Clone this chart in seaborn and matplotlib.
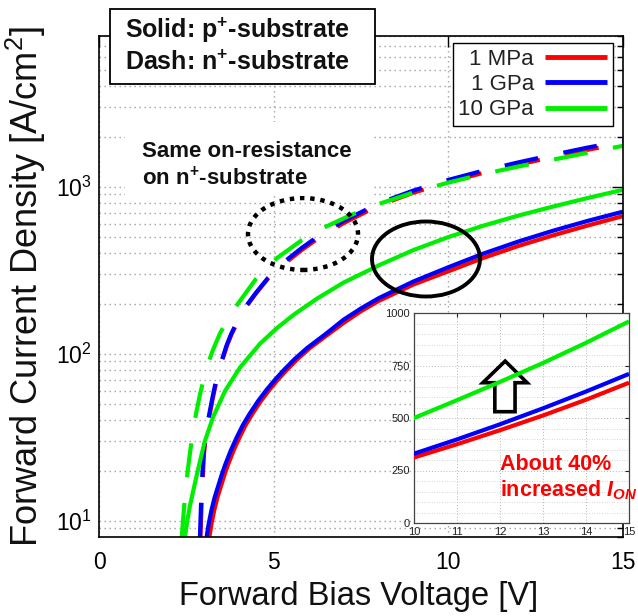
import matplotlib
matplotlib.use("Agg")
import matplotlib.pyplot as plt
import numpy as np
import pandas as pd
import seaborn as sns
from matplotlib.patches import Ellipse, Polygon, Rectangle
from matplotlib.lines import Line2D
from matplotlib.ticker import MultipleLocator, LogLocator, NullFormatter

# ---- forward J-V curves, p+-substrate (solid) ----
v_p_1mpa = [3.16, 3.22, 3.30, 3.39, 3.49, 3.59, 3.69, 3.85, 4.02, 4.20, 4.40, 4.63, 4.88, 5.12, 5.36,
            5.68, 6.03, 6.5, 7.0, 7.5, 8.0, 9.0, 10, 11, 12, 13, 14, 15]
j_p_1mpa = [8, 9.6, 11.6, 13.8, 16.1, 18.8, 21.6, 26.3, 31.5, 37.5, 44, 52, 61, 70, 79.5,
            93, 108, 128, 153, 180, 207, 260, 312, 375, 442, 512, 587, 668]

v_p_1gpa = [3.08, 3.14, 3.22, 3.31, 3.41, 3.51, 3.61, 3.77, 3.94, 4.12, 4.32, 4.55, 4.80, 5.04, 5.28,
            5.6, 5.95, 6.5, 7.0, 7.5, 8.0, 9.0, 10, 11, 12, 13, 14, 15]
j_p_1gpa = [8, 9.6, 11.6, 13.8, 16.1, 18.8, 21.6, 26.3, 31.5, 37.5, 44, 52, 61, 70, 79.5,
            93, 108, 132, 160, 187, 215, 271, 330, 398, 470, 546, 626, 710]

v_p_10gpa = [2.46, 2.52, 2.6, 2.7, 2.84, 3.03, 3.27, 3.61, 4.04, 4.61, 5.1, 5.6, 6.24, 7.0, 8.04,
             9.0, 10, 11, 12, 13, 14, 15]
j_p_10gpa = [8, 9.8, 12.2, 15.2, 20.5, 30, 42, 60, 83, 115, 143, 173, 214, 267, 341,
             418, 500, 585, 672, 762, 858, 960]

# ---- forward J-V curves, n+-substrate (dashed) ----
v_n_1mpa = [2.905, 2.92, 2.935, 2.955, 2.975, 3.005, 3.045, 3.095, 3.175, 3.265, 3.345, 3.445, 3.555,
            3.665, 3.795, 3.965, 4.215, 4.515, 4.855, 5.3, 5.8, 6.24, 7.0, 7.76, 8.24, 9.0, 10, 11,
            12, 13, 14, 15]
j_n_1mpa = [8, 10, 12.4, 15.5, 19, 25, 30.5, 36, 44, 55, 66, 80, 95,
            112, 131, 155, 192, 233, 285, 345, 418, 486, 606, 728, 805, 922, 1067, 1212,
            1358, 1508, 1668, 1824]

v_n_1gpa = [2.89, 2.905, 2.92, 2.94, 2.96, 2.99, 3.03, 3.08, 3.16, 3.25, 3.33, 3.43, 3.54,
            3.65, 3.78, 3.95, 4.2, 4.5, 4.84, 5.3, 5.8, 6.24, 7.0, 7.76, 8.24, 9.0, 10, 11,
            12, 13, 14, 15]
j_n_1gpa = [8, 10, 12.4, 15.5, 19, 25, 30.5, 36, 44, 55, 66, 80, 95,
            112, 131, 155, 192, 233, 285, 355, 430, 500, 625, 750, 830, 950, 1100, 1250,
            1400, 1555, 1720, 1880]

v_n_10gpa = [2.37, 2.405, 2.44, 2.48, 2.54, 2.61, 2.68, 2.78, 2.89, 3.0, 3.12, 3.25, 3.46, 3.7,
             3.95, 4.5, 5.1, 5.8, 6.5, 7.2, 8.0, 9, 10, 11, 12, 13, 14, 15]
j_n_10gpa = [8, 10, 12.4, 15.2, 20, 26, 33, 44, 57, 71, 87, 104, 132, 163,
             196, 282, 375, 478, 578, 676, 788, 925, 1060, 1192, 1322, 1455, 1600, 1760]

pressures = ["1 MPa", "1 GPa", "10 GPa"]
colors = {"1 MPa": "#ff0000", "1 GPa": "#0000ff", "10 GPa": "#00ee00"}

x_ticks = [0, 5, 10, 15]
inset_x_ticks = [10, 11, 12, 13, 14, 15]
inset_y_ticks = [0, 250, 500, 750, 1000]

frames = []
for subst, series in [
    ("n+", [(v_n_1mpa, j_n_1mpa), (v_n_1gpa, j_n_1gpa), (v_n_10gpa, j_n_10gpa)]),
    ("p+", [(v_p_1mpa, j_p_1mpa), (v_p_1gpa, j_p_1gpa), (v_p_10gpa, j_p_10gpa)]),
]:
    for p, (v, j) in zip(pressures, series):
        frames.append(pd.DataFrame({"V": v, "J": j, "pressure": p, "substrate": subst}))
df = pd.concat(frames, ignore_index=True)

sns.set_theme(style="white")
plt.rcParams["font.family"] = ["Liberation Sans", "DejaVu Sans"]
plt.rcParams["mathtext.fontset"] = "custom"
plt.rcParams["mathtext.rm"] = "Liberation Sans"
plt.rcParams["mathtext.it"] = "Liberation Sans:italic:bold"
plt.rcParams["mathtext.bf"] = "Liberation Sans:bold"
plt.rcParams["lines.solid_capstyle"] = "butt"
plt.rcParams["lines.dash_capstyle"] = "butt"
plt.rcParams["lines.solid_joinstyle"] = "round"

W, H = 638, 616
fig = plt.figure(figsize=(W / 100, H / 100), dpi=100)
fig.patch.set_facecolor("white")


def fx(x):
    return x / W


def fy(y):
    return 1 - y / H


ax = fig.add_axes([fx(99), fy(537), 524 / W, 501 / H])
ax.set_facecolor("white")

dash_style = (0, (8.2, 6.2))
for (subst, p), sub in df.groupby(["substrate", "pressure"], sort=False):
    sns.lineplot(data=sub, x="V", y="J", ax=ax, color=colors[p], lw=3,
                 linestyle=dash_style if subst == "n+" else "-",
                 sort=False, estimator=None, legend=False)

ax.set_yscale("log")
ax.set_xlim(0, 15)
ax.set_ylim(8, 8000)
ax.set_xticks(x_ticks)
ax.yaxis.set_major_locator(LogLocator(base=10, numticks=10))
ax.yaxis.set_minor_locator(LogLocator(base=10, subs=np.arange(2, 10), numticks=20))
ax.yaxis.set_minor_formatter(NullFormatter())

grid_kw = dict(color="#a0a0a0", lw=1.0, linestyle=(0, (1, 2.6)))
ax.grid(True, which="major", axis="x", **grid_kw)
ax.grid(True, which="both", axis="y", **grid_kw)
ax.set_axisbelow(True)

ax.tick_params(which="both", direction="in", top=True, right=True,
               colors="black", width=1.0)
ax.tick_params(which="major", length=8, labelsize=16.5)
ax.tick_params(axis="x", which="major", pad=10)
ax.tick_params(axis="y", which="major", pad=5)
ax.tick_params(which="minor", length=4.5)
for s in ax.spines.values():
    s.set_color("black")
    s.set_linewidth(1.2)

ax.set_xlabel("Forward Bias Voltage [V]", fontsize=23.5, color="#111111")
ax.set_ylabel("Forward Current Density [A/cm$^{\\mathdefault{2}}$]", fontsize=26, color="#111111")
ax.xaxis.set_label_coords(0.496, (537 - 581) / 501)
ax.yaxis.set_label_coords((48 - 99) / 524, 0.5)

# legend: pressure levels
handles = [Line2D([], [], color=colors[p], lw=3.5) for p in pressures]
leg = ax.legend(handles, pressures, loc="upper right",
                bbox_to_anchor=((613 - 99) / 524, (537 - 43) / 501),
                bbox_transform=ax.transAxes, borderaxespad=0,
                markerfirst=False, frameon=True, fancybox=False,
                framealpha=1, edgecolor="black", fontsize=16,
                handlelength=2.8, handletextpad=0.5, labelspacing=0.2,
                borderpad=0.25)
leg.get_frame().set_linewidth(1.0)
for t in leg.get_texts():
    t.set_color("#222222")

# highlighted regions
ax.add_patch(Ellipse(((303 - 99) / 524, (537 - 234) / 501), 110 / 524, 72 / 501,
                     transform=ax.transAxes, fill=False, ec="black", lw=3.2,
                     linestyle=(0, (1, 1.3)), zorder=6))
ax.add_patch(Ellipse(((426 - 99) / 524, (537 - 259) / 501), 108 / 524, 75 / 501,
                     transform=ax.transAxes, fill=False, ec="black", lw=2.8,
                     zorder=6))

# substrate key box
fig.patches.append(Rectangle((fx(110), fy(84)), 265 / W, 75 / H,
                             transform=fig.transFigure, fc="white",
                             ec="black", lw=1.3, zorder=5))
fig.text(fx(125), fy(38), "Solid: p$^{\\mathdefault{+}}$-substrate", fontsize=18,
         fontweight="bold", color="#111111", va="baseline", zorder=6)
fig.text(fx(125), fy(70), "Dash: n$^{\\mathdefault{+}}$-substrate", fontsize=18,
         fontweight="bold", color="#111111", va="baseline", zorder=6)

# annotation for the n+-substrate curves, on a plain white backing
fig.patches.append(Rectangle((fx(125), fy(196)), 249 / W, 74 / H,
                             transform=fig.transFigure, fc="white",
                             ec="none", zorder=3))
fig.text(fx(142), fy(185), "Same on-resistance\non n$^{\\mathdefault{+}}$-substrate",
         fontsize=16, fontweight="bold", color="#111111", va="baseline",
         linespacing=1.25, zorder=4)

# zoomed inset of the p+-substrate curves
axin = fig.add_axes([fx(414), fy(523), 215 / W, 210 / H])
axin.set_facecolor("white")
for p in pressures:
    sub = df[(df.substrate == "p+") & (df.pressure == p)]
    sns.lineplot(data=sub, x="V", y="J", ax=axin, color=colors[p], lw=3,
                 sort=False, estimator=None, legend=False, zorder=3)
axin.set_xlim(10, 15)
axin.set_ylim(0, 1000)
axin.set_xticks(inset_x_ticks)
axin.set_yticks(inset_y_ticks)
axin.yaxis.set_minor_locator(MultipleLocator(50))
axin.grid(True, which="major", color="#b5b5b5", lw=0.7, linestyle=(0, (1, 2)))
axin.grid(True, which="minor", axis="y", color="#c8c8c8", lw=0.6, linestyle=(0, (1, 2)))
axin.set_axisbelow(True)
axin.tick_params(which="major", direction="in", top=True, right=True, length=3,
                 width=0.8, labelsize=8, colors="#222222")
axin.tick_params(axis="x", which="major", pad=3)
axin.tick_params(axis="y", which="major", pad=3)
axin.tick_params(which="minor", length=0)
axin.set_xlabel("")
axin.set_ylabel("")
for s in axin.spines.values():
    s.set_color("#444444")
    s.set_linewidth(0.9)

# hollow arrow marking the current increase
axin.add_patch(Polygon([(11.88, 530), (12.35, 530), (12.35, 668), (12.63, 668),
                        (12.12, 771), (11.60, 668), (11.88, 668)],
                       closed=True, fc="white", ec="black", lw=2.6, zorder=2))

fig.text(fx(500), fy(470), "About 40%", fontsize=15.5, fontweight="bold",
         color="#ff0000", va="baseline", zorder=7)
fig.text(fx(500), fy(496), "increased $I_{ON}$", fontsize=15.5, fontweight="bold",
         color="#ff0000", va="baseline", zorder=7)

fig.savefig("out.png", dpi=100)
